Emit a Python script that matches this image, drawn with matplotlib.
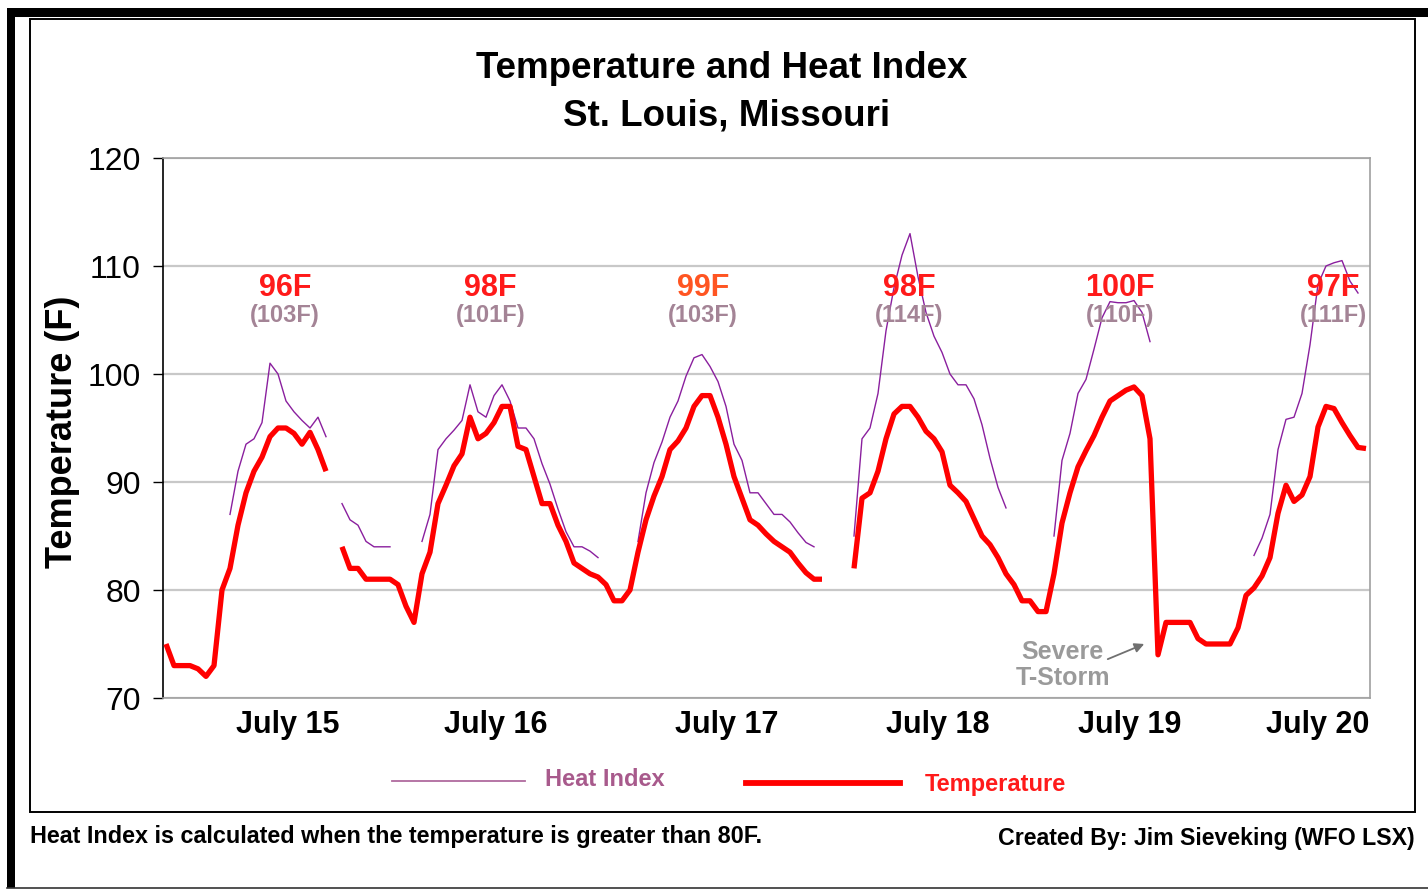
import numpy as np
import matplotlib
matplotlib.use("Agg")
import matplotlib.pyplot as plt
from matplotlib.lines import Line2D
from matplotlib.patches import Rectangle
from matplotlib import font_manager

nan = np.nan

# ---------------- data (hourly samples, NaN = no data) ----------------
temperature = [
    75, 73, 73, 73, 72.7, 72, 73, 80, 82, 86, 89, 91, 92.3, 94.2, 95, 95, 94.5, 93.5, 94.6, 93, 91,
    nan,
    84, 82, 82, 81, 81, 81, 81, 80.5, 78.5, 77, 81.5, 83.5, 88, 89.7, 91.5, 92.6, 96, 94, 94.5,
    95.5, 97, 97, 93.3, 93, 90.5, 88, 88, 86, 84.5, 82.5, 82, 81.5, 81.2, 80.5, 79, 79, 80,
    83.5, 86.5, 88.7, 90.5, 93, 93.8, 95, 97, 98, 98, 96, 93.5, 90.5, 88.5, 86.5, 86, 85.2,
    84.5, 84, 83.5, 82.5, 81.6, 81, 81,
    nan, nan, nan,
    82, 88.5, 89, 91, 94, 96.3, 97, 97, 96, 94.7, 94, 92.8, 89.7, 89, 88.2, 86.6, 85, 84.2,
    83, 81.5, 80.5, 79, 79, 78, 78, 81.5, 86.2, 89, 91.4, 92.9, 94.3, 96, 97.5, 98, 98.5,
    98.8, 98, 94, 74, 77, 77, 77, 77, 75.5, 75, 75, 75, 75, 76.5, 79.5, 80.2, 81.3, 83,
    87.1, 89.7, 88.2, 88.8, 90.5, 95.1, 97, 96.8, 95.5, 94.3, 93.2, 93.1,
]

heat_index = [
    nan, nan, nan, nan, nan, nan, nan, nan,
    87, 91, 93.5, 94, 95.5, 101, 100, 97.5, 96.5, 95.7, 95, 96, 94.2,
    nan,
    88, 86.5, 86, 84.5, 84, 84, 84,
    nan, nan, nan,
    84.5, 87, 93, 94, 94.8, 95.7, 99, 96.5, 96, 98, 99, 97.5, 95, 95, 94, 91.7, 89.8, 87.5,
    85.4, 84, 84, 83.6, 83,
    nan, nan, nan, nan,
    84.5, 89, 91.8, 93.7, 96, 97.5, 99.8, 101.5, 101.8, 100.7, 99.3, 97, 93.5, 92, 89, 89,
    88, 87, 87, 86.3, 85.3, 84.4, 84,
    nan, nan, nan, nan,
    85, 94, 95, 98.2, 104, 108, 111, 113, 109, 105.7, 103.5, 102, 100, 99, 99, 97.7, 95.3,
    92.2, 89.5, 87.6,
    nan, nan, nan, nan, nan,
    85, 92, 94.5, 98.2, 99.5, 102.3, 105.2, 106.7, 106.6, 106.6, 106.8, 105.7, 103,
    nan, nan, nan, nan, nan, nan, nan, nan, nan, nan, nan, nan,
    83.2, 84.8, 87, 93, 95.8, 96, 98.2, 102.7, 108.3, 110, 110.3, 110.5, 108.6, 107.5, nan,
]

day_labels = ["July 15", "July 16", "July 17", "July 18", "July 19", "July 20"]
day_label_hours = [15.25, 41.25, 70.1, 96.5, 120.5, 144]

max_temp_labels = ["96F", "98F", "99F", "98F", "100F", "97F"]
max_hi_labels = ["(103F)", "(101F)", "(103F)", "(114F)", "(110F)", "(111F)"]
max_label_hours = [14.9, 40.6, 67.1, 92.9, 119.25, 145.9]

hours = np.arange(len(temperature))

# ---------------- fonts ----------------
avail = {f.name for f in font_manager.fontManager.ttflist}
base = "Liberation Sans" if "Liberation Sans" in avail else "DejaVu Sans"
narrow = "Liberation Sans Narrow" if "Liberation Sans Narrow" in avail else base
plt.rcParams["font.family"] = [base, "DejaVu Sans"]

W, H = 1428, 890
fig = plt.figure(figsize=(W / 100, H / 100), dpi=100)
fig.patch.set_facecolor("white")

def fx(px):
    return px / W

def fy(py):
    return 1 - py / H

# outer frame decorations
fig.add_artist(Rectangle((fx(7), fy(17)), fx(1428) - fx(7), fy(8) - fy(17),
                         transform=fig.transFigure, color="black", lw=0))
fig.add_artist(Rectangle((fx(7), fy(888)), fx(8), fy(8) - fy(888), transform=fig.transFigure,
                         color="black", lw=0))
fig.add_artist(Line2D([fx(7), fx(1428)], [fy(888), fy(888)], transform=fig.transFigure,
                      color="#333333", lw=1.2))
fig.add_artist(Rectangle((fx(30), fy(812)), fx(1415) - fx(30), fy(19) - fy(812),
                         transform=fig.transFigure, fill=False, edgecolor="black", lw=1.4))

# axes
ax = fig.add_axes([fx(163), fy(698), fx(1370) - fx(163), fy(158) - fy(698)])
ax.set_xlim(-0.375, 150.5)
ax.set_ylim(70, 120)

ax.plot(hours, heat_index, color="#8a1f9e", lw=1.0, solid_joinstyle="round", zorder=3)
ax.plot(hours, temperature, color="#ff0000", lw=3.8, solid_joinstyle="round",
        solid_capstyle="butt", zorder=4)

ax.set_yticks([70, 80, 90, 100, 110, 120])
ax.yaxis.grid(True, color="#c8c8c8", lw=1.6)
ax.set_axisbelow(True)
ax.tick_params(axis="y", length=7, width=1, color="black", labelsize=23, pad=9)
ax.set_xticks(day_label_hours)
ax.set_xticklabels(day_labels, fontsize=22, fontweight="bold")
ax.tick_params(axis="x", length=0, pad=9)
for s in ["top", "right", "bottom"]:
    ax.spines[s].set_color("#a0a0a0")
    ax.spines[s].set_linewidth(1.2)
ax.spines["left"].set_color("black")
ax.spines["left"].set_linewidth(1.2)

fig.text(fx(62), fy(432), "Temperature (F)", rotation=90, fontsize=26, fontweight="bold",
         ha="center", va="center")

# daily max labels
temp_colors = ["#ff1a1a", "#ff1a1a", "#ff5522", "#ff1a1a", "#ff1a1a", "#ff1a1a"]
for h, t, hi, c in zip(max_label_hours, max_temp_labels, max_hi_labels, temp_colors):
    ax.text(h, 108.0, t, color=c, fontsize=22, fontweight="bold", ha="center", va="center",
            zorder=5)
    ax.text(h, 105.45, hi, color="#a48496", fontsize=17, fontweight="bold", ha="center",
            va="center", zorder=5)

# severe storm annotation
ax.text(112.1, 74.25, "Severe", color="#9a9a9a", fontsize=18, fontweight="bold",
        ha="center", va="center")
ax.text(112.1, 71.85, "T-Storm", color="#9a9a9a", fontsize=18, fontweight="bold",
        ha="center", va="center")
ax.annotate("", xy=(122.6, 75.1), xytext=(117.4, 73.5),
            arrowprops=dict(arrowstyle="-|>", color="#707070", lw=1.3, mutation_scale=14))

# title
fig.text(fx(722), fy(68), "Temperature and Heat Index", fontsize=26.5, fontweight="bold",
         ha="center", va="center")
fig.text(fx(727), fy(116), "St. Louis, Missouri", fontsize=26.5, fontweight="bold",
         ha="center", va="center")

# legend
fig.add_artist(Line2D([fx(392), fx(525)], [fy(781), fy(781)], transform=fig.transFigure,
                      color="#b06a9e", lw=1.3))
fig.text(fx(605), fy(780), "Heat Index", family=[narrow, "DejaVu Sans"], fontsize=17,
         fontweight="bold", color="#a85a8c", ha="center", va="center")
fig.add_artist(Line2D([fx(746), fx(900)], [fy(783), fy(783)], transform=fig.transFigure,
                      color="#ff0000", lw=4.2))
fig.text(fx(995), fy(784), "Temperature", family=[narrow, "DejaVu Sans"], fontsize=17,
         fontweight="bold", color="#ff1a1a", ha="center", va="center")

# footer
fig.text(fx(30), fy(837), "Heat Index is calculated when the temperature is greater than 80F.",
         family=[narrow, "DejaVu Sans"], fontsize=16.8, fontweight="bold", ha="left", va="center")
fig.text(fx(1415), fy(839), "Created By: Jim Sieveking (WFO LSX)",
         family=[narrow, "DejaVu Sans"], fontsize=16.7, fontweight="bold", ha="right", va="center")

fig.savefig("out.png", dpi=100)
